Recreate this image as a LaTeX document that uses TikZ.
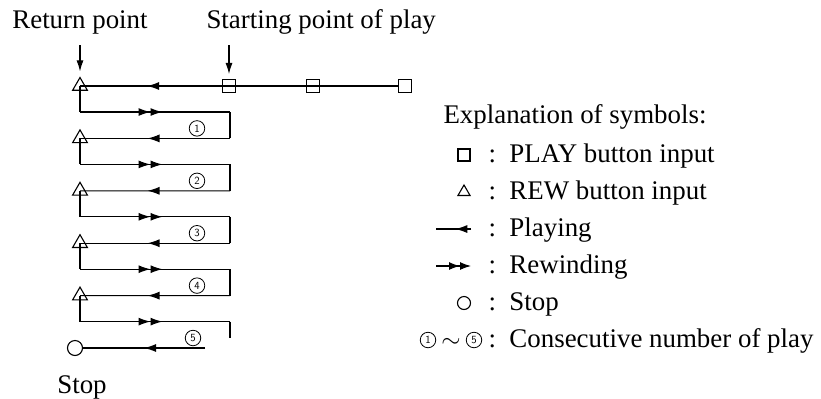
\documentclass[tikz,border=0pt]{standalone}
\usepackage{fontspec}
\setmainfont{Liberation Serif}
\usetikzlibrary{arrows.meta,shapes.geometric,decorations.markings,positioning}

\tikzset{
  wire/.style={line width=1.1bp},
  arr/.style={wire,-{Latex[length=11bp,width=7bp]}},
  tri/.style={draw,wire,regular polygon,regular polygon sides=3,inner sep=0pt,minimum size=17bp},
  btn/.style={draw,wire,rectangle,inner sep=0pt,minimum size=13bp},
  stopc/.style={draw,wire,circle,inner sep=0pt,minimum size=15bp},
  num/.style={draw,circle,line width=0.8bp,inner sep=0pt,minimum size=15.5bp,font=\fontsize{11}{11}\selectfont\sffamily},
  lbl/.style={font=\fontsize{27}{31}\selectfont},
  playing/.style={wire,postaction={decorate},decoration={markings,
    mark=at position #1 with {\arrow{Latex[length=12bp,width=8bp]}}}},
  playing/.default=0.55,
  rewinding/.style={wire,postaction={decorate},decoration={markings,
    mark=at position 0.47 with {\arrow{Latex[length=12bp,width=8bp]}},
    mark=at position 0.55 with {\arrow{Latex[length=12bp,width=8bp]}}}},
}

\begin{document}
\begin{tikzpicture}[x=1bp,y=-1bp]
\useasboundingbox (0,0) rectangle (821,398);

% labels on top
\node[lbl,anchor=base] (ret) at (80,28) {Return point};
\node[lbl,anchor=base west] (start) at (203,28) {Starting point of play};

% play buttons
\node[btn] (sq1) at (229,86) {};
\node[btn] (sq2) at (313,86) {};
\node[btn] (sq3) at (405,86) {};

% rew buttons
\foreach \k/\py in {1/86,2/138.4,3/190.8,4/243.2,5/295.6}
  \node[tri] (tri\k) at (80,\py) {};

\draw[arr] ([yshift=-8bp]ret.south) -- ([yshift=5bp]tri1.north);
\draw[arr] ([yshift=-8bp]ret.south -| sq1.north) -- ([yshift=5bp]sq1.north);

\draw[wire] (sq3.west) -- (sq2.center) -- (sq1.center);
\draw[playing] (sq1.center) -- (tri1.center);

% rewind and play again
\foreach \k/\n/\py in {1/2/86,2/3/138.4,3/4/190.8,4/5/243.2} {
  \coordinate (l\k) at (80,\py+26);
  \coordinate (r\k) at (230,\py+26);
  \coordinate (q\k) at (230,\py+52.4);
  \draw[wire] (tri\k.center) -- (l\k);
  \draw[rewinding] (l\k) -- (r\k);
  \draw[wire] (r\k) -- (q\k);
  \draw[playing] (q\k) -- (tri\n.center);
  \node[num] (n\k) at (197,\py+42.4) {\k};
}

% last one, then stop
\coordinate (l5) at (80,321.6);
\coordinate (r5) at (230,321.6);
\coordinate (e5) at (230,338);
\coordinate (s5) at (205,348);
\node[stopc] (stop) at (75,348) {};
\draw[wire] (tri5.center) -- (l5);
\draw[rewinding] (l5) -- (r5);
\draw[wire] (r5) -- (e5);
\draw[playing=0.5] (s5) -- (stop.east);
\node[num] (n5) at (193,338) {5};
\node[lbl,anchor=base] (stoplbl) at (82,393) {Stop};

% explanation
\node[lbl,anchor=base west] (expl) at (440,123) {Explanation of symbols:};
\node[btn,minimum size=12bp] (lsq) at (464,155) {};
\node[lbl,anchor=base west] (t1) at (485,162) {:\, PLAY button input};
\node[tri,minimum size=14bp] (ltri) at (464,192) {};
\node[lbl,anchor=base west] (t2) at (485,199) {:\, REW button input};
\coordinate (pa) at (436,229);
\coordinate (pb) at (471,229);
\draw[playing=0.45] (pb) -- (pa);
\node[lbl,anchor=base west] (t3) at (485,236) {:\, Playing};
\coordinate (ra) at (436,266);
\coordinate (rb) at (471,266);
\draw[wire,-{Latex[length=11bp,width=8bp]Latex[length=11bp,width=8bp]}] (ra) -- (rb);
\node[lbl,anchor=base west] (t4) at (485,273) {:\, Rewinding};
\node[stopc,minimum size=13bp] (lstop) at (464,303) {};
\node[lbl,anchor=base west] (t5) at (485,310) {:\, Stop};
\node[num] (la) at (428,340) {1};
\node[lbl,anchor=base] (tilde) at (451,347) {$\sim$};
\node[num] (lb) at (474,340) {5};
\node[lbl,anchor=base west] (t6) at (485,347) {:\, Consecutive number of play};
\end{tikzpicture}
\end{document}
